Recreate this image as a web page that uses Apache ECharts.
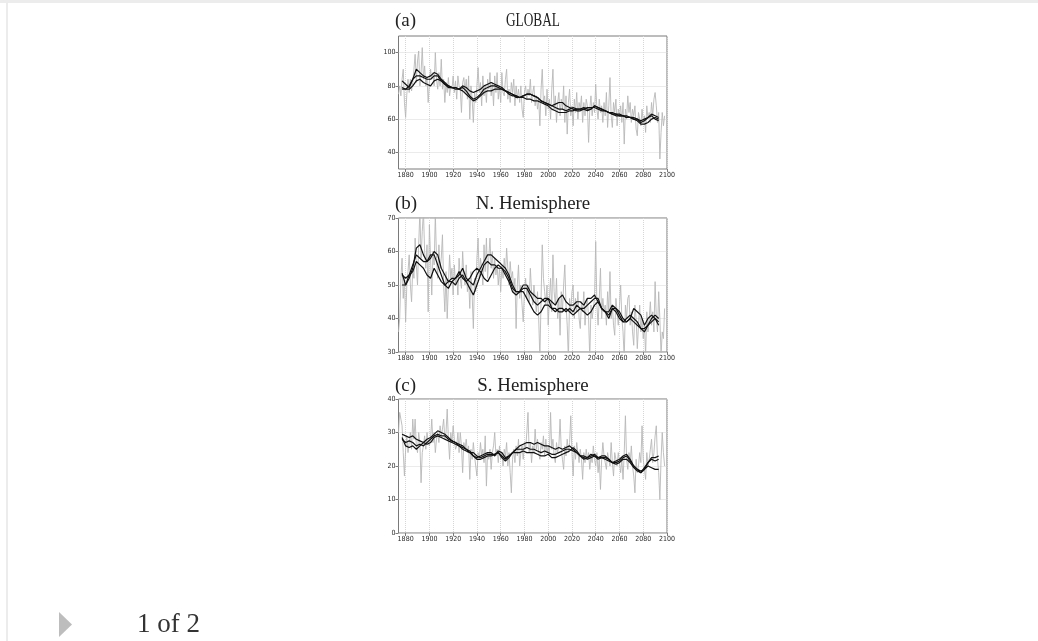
<!DOCTYPE html>
<html>
<head>
<meta charset="utf-8">
<title>Regional series, 1874-2098</title>
<script src="https://cdn.jsdelivr.net/npm/echarts@6/dist/echarts.min.js"></script>
<style>
  html, body { margin: 0; padding: 0; background: #ffffff; }
  #chart { width: 1038px; height: 641px; }
</style>
</head>
<body>
<div id="chart"></div>
<script>
// ---- axis ticks ----
const xTicks = [1880, 1900, 1920, 1940, 1960, 1980, 2000, 2020, 2040, 2060, 2080, 2100];
const yTicksGlobal = [40, 60, 80, 100];
const yTicksNorth = [30, 40, 50, 60, 70];
const yTicksSouth = [0, 10, 20, 30, 40];

// ---- annual values, one per year starting in annualStart ----
const annualStart = 1874;
const annualGlobal = [
  75, 80, 74, 84, 90, 70,
  61, 75, 84, 76, 84, 77, 82, 90, 99, 82,
  95, 101, 80, 88, 103, 84, 92, 80, 85, 70,
  82, 90, 84, 88, 80, 100, 84, 78, 88, 80,
  96, 78, 84, 70, 82, 76, 85, 74, 80, 78,
  86, 76, 83, 72, 86, 80, 78, 64, 82, 85,
  76, 84, 72, 86, 60, 80, 72, 58, 76, 70,
  80, 91, 76, 82, 68, 86, 74, 80, 70, 84,
  78, 88, 74, 82, 68, 86, 76, 88, 72, 80,
  70, 88, 76, 74, 84, 90, 72, 78, 70, 82,
  76, 84, 68, 80, 72, 78, 70, 80, 66, 61,
  76, 80, 72, 78, 74, 84, 70, 76, 80, 68,
  74, 66, 72, 56, 78, 90, 70, 74, 62, 78,
  66, 72, 60, 78, 90, 66, 74, 58, 70, 76,
  62, 72, 66, 80, 58, 74, 51, 70, 78, 62,
  68, 56, 72, 64, 76, 60, 70, 66, 74, 58,
  70, 62, 72, 68, 46, 66, 74, 62, 70, 64,
  81, 66, 60, 72, 64, 68, 58, 70, 62, 76,
  55, 68, 85, 62, 55, 70, 64, 72, 56, 66,
  62, 68, 58, 70, 45, 66, 60, 74, 64, 70,
  58, 66, 62, 68, 54, 50, 64, 60, 56, 66,
  58, 62, 52, 68, 60, 64, 58, 70, 62, 72,
  76, 68, 58, 64, 36, 52, 64, 56, 62
];
const annualNorth = [
  36, 40, 52, 58, 46, 52,
  39, 50, 54, 59, 50, 45, 55, 52, 64, 56,
  50, 62, 72, 58, 66, 72, 60, 55, 62, 42,
  68, 58, 47, 60, 56, 71, 58, 52, 62, 55,
  58, 65, 50, 42, 54, 40, 50, 59, 52, 55,
  47, 56, 50, 53, 47, 58, 52, 49, 60, 53,
  50, 56, 48, 52, 43, 54, 47, 37, 52, 48,
  58, 64, 52, 58, 55, 50, 62, 54, 64, 52,
  58, 64, 55, 60, 52, 58, 53, 56, 50, 55,
  48, 56, 52, 58, 53, 61, 55, 50, 57, 52,
  54, 48, 52, 37, 50, 56, 46, 50, 44, 39,
  48, 52, 46, 50, 45, 55, 48, 44, 50, 50,
  42, 48, 40, 28, 46, 62, 52, 48, 44, 50,
  38, 46, 52, 42, 59, 48, 44, 52, 40, 46,
  35, 48, 42, 50, 56, 44, 38, 28, 46, 42,
  48, 50, 40, 46, 42, 48, 40, 37, 45, 42,
  48, 38, 44, 46, 40, 28, 44, 40, 40, 46,
  63, 44, 38, 46, 55, 40, 46, 42, 44, 38,
  48, 42, 54, 40, 44, 38, 35, 46, 42, 38,
  44, 50, 40, 36, 28, 44, 40, 46, 47, 38,
  42, 36, 32, 44, 40, 31, 38, 44, 36, 40,
  34, 38, 29, 42, 36, 40, 45, 38, 42, 36,
  51, 40, 36, 48, 40, 29, 36, 34, 43
];
const annualSouth = [
  30, 36, 34, 32, 24, 17,
  25, 29, 24, 27, 30, 25, 34, 28, 34, 26,
  24, 30, 27, 15, 24, 26, 29, 25, 30, 27,
  26, 28, 34, 27, 30, 24, 28, 30, 27, 32,
  29, 31, 34, 28, 30, 37, 28, 22, 30, 27,
  32, 28, 25, 26, 30, 24, 30, 26, 18, 27,
  25, 28, 24, 26, 16, 25, 22, 27, 23, 20,
  17, 24, 22, 27, 23, 25, 21, 29, 14, 24,
  22, 25, 19, 24, 26, 30, 23, 25, 21, 26,
  22, 24, 20, 25, 23, 27, 20, 24, 18, 12,
  22, 25, 21, 26, 23, 28, 20, 24, 26, 22,
  27, 25, 30, 36, 24, 27, 21, 26, 24, 31,
  25, 28, 24, 22, 27, 25, 29, 23, 28, 24,
  26, 23, 36, 25, 28, 23, 21, 27, 24, 26,
  34, 25, 22, 19, 26, 23, 28, 24, 27, 35,
  24, 17, 26, 22, 27, 24, 21, 25, 22, 16,
  24, 21, 25, 22, 24, 19, 23, 21, 26, 22,
  20, 24, 18, 22, 13, 22, 27, 23, 21, 19,
  24, 22, 20, 27, 21, 17, 24, 22, 20, 24,
  21, 18, 22, 16, 24, 35, 22, 19, 24, 21,
  26, 20, 17, 12, 22, 18, 20, 24, 21, 32,
  22, 19, 16, 24, 20, 22, 25, 28, 21, 24,
  29, 32, 22, 18, 10, 22, 30, 24, 20
];

// ---- running means, one value every smoothStep years from smoothStart ----
const smoothStart = 1877;
const smoothStep = 3;
const globalRunA = [83,81,79,84,90,88,86,85,86,88, 87,84,82,80,79,79,78,80,79,77, 76,77,78,80,81,82,81,80,79,77, 76,75,74,73,74,75,75,74,73,71, 70,69,68,67,66,66,65,66,67,66, 66,67,66,66,68,67,66,65,64,64, 63,63,62,62,61,61,60,59,60,61, 63,62,61];
const globalRunB = [78,78,80,84,86,86,85,84,84,86, 86,83,81,79,79,78,78,79,77,74, 72,73,75,78,79,80,80,79,78,77, 75,74,74,73,74,75,75,74,73,71, 70,69,68,69,70,70,68,67,66,65, 65,66,67,67,67,66,65,65,64,63, 63,62,62,61,61,60,59,57,57,58, 60,61,60];
const globalRunC = [79,78,78,80,83,84,82,81,80,83, 84,83,81,80,79,79,78,77,75,73, 71,72,74,76,77,77,78,78,78,77, 76,75,73,73,73,72,72,71,71,70, 69,68,66,65,64,64,64,65,65,66, 66,66,65,66,68,67,66,65,64,63, 62,62,62,61,61,60,60,58,59,61, 62,60,59];

const northRunA = [53.5,50,52,55,61,62,59,57,58,60, 59,55,53,51,52,52,53,55,52,51, 50,53,55,57,59,59,58,57,56,55, 53,50,48,48,49,49,47,45,44,45, 46,46,45,44,46,47,45,44,44,45, 45,44,46,46,47,45,43,42,41,43, 43,42,40,39,40,43,42,41,38,40, 41,40,38];
const northRunB = [50,50,53,56,59,58,57,57,59,59, 56,53,50,49,51,52,54,52,51,49, 47,50,53,56,57,56,56,55,55,54, 52,49,48,48,50,50,48,47,46,46, 45,46,43,42,43,43,42,43,42,44, 43,43,44,45,46,46,43,42,42,44, 43,41,39,39,40,39,38,37,37,38, 40,41,40];
const northRunC = [53,52,53,54,57,56,55,53,52,55, 53,51,50,51,51,50,52,53,51,52, 54,55,54,52,51,53,55,56,55,53, 51,48,47,48,48,46,44,42,41,42, 44,44,43,43,42,42,43,42,41,42, 43,42,41,42,44,45,43,42,40,43, 42,40,39,40,41,40,39,37,36,38, 39,40,39];

const southRunA = [29.5,29,28.5,29,28,27.5,27,28,28.5,29.5, 30.5,30,29.5,28.5,27.5,27,26.5,26,25,24, 24,23,22.5,23,23.5,23.5,23.5,24,23,22, 23,24,25,26,26.5,27,27,26.5,27,26.5, 26,26,25.5,25,25.5,25,25.5,26,25,24, 23,23,22.5,23,23.5,22.5,23,23,22,21, 21.5,22,23,23.5,22,20,19,18.5,19,21, 22.5,22.5,23];
const southRunB = [28,27,27.5,27,26,26.5,26,27,28,29, 29.5,29,29,28,27.5,27,26,25,24.5,24, 23,22,22,22.5,23,23,23.5,24,22.5,21.5, 22.5,24,25,25,25,25.5,25,25,24.5,24, 24.5,24,23.5,23.5,24,24.5,25,25,24.5,24, 23,22.5,22,22.5,23,22.5,22.5,22.5,22,21, 20.5,21,22,22,21,19.5,18.5,18,19,20, 19.5,19,19];
const southRunC = [28.5,26,25.5,26,25,26,27,26.5,27,28.5, 29,28.5,28,27.5,27,26.5,26,25.5,25,24.5, 23,22.5,23,23.5,24,24,23,24.5,24,22.5, 23,24,24,24,24.5,24,24,24,23.5,23, 23,23.5,22.5,22.5,23,23.5,24,24.5,25.5,24.5, 23,22,22.5,23.5,23,22,22.5,22,21.5,21, 21,21.5,22.5,23,21.5,20,19,18,19.5,21, 22,21.5,22];

// ---- panels ----
const panels = [
  { tag: '(a)', name: 'GLOBAL', nameScale: 0.74, yMin: 30, yMax: 110, yTicks: yTicksGlobal,
    annual: annualGlobal, runs: [globalRunA, globalRunB, globalRunC],
    top: 36, height: 133, titleY: 21 },
  { tag: '(b)', name: 'N. Hemisphere', nameScale: 1.05, yMin: 30, yMax: 70, yTicks: yTicksNorth,
    annual: annualNorth, runs: [northRunA, northRunB, northRunC],
    top: 218, height: 134, titleY: 204 },
  { tag: '(c)', name: 'S. Hemisphere', nameScale: 1.05, yMin: 0, yMax: 40, yTicks: yTicksSouth,
    annual: annualSouth, runs: [southRunA, southRunB, southRunC],
    top: 399, height: 134, titleY: 386 }
];

const gridLeft = 398.5;
const gridWidth = 268.5;
const labelFont = '"Liberation Sans Narrow", "DejaVu Sans Condensed", "Liberation Sans", sans-serif';
const titleFont = '"Liberation Serif", "DejaVu Serif", serif';
const plain = (v) => String(v);

function toPairs(start, step, values) {
  return values.map((v, i) => [start + i * step, v]);
}

const grids = [], xAxes = [], yAxes = [], series = [], graphics = [];

panels.forEach((p, i) => {
  grids.push({
    left: gridLeft, top: p.top, width: gridWidth, height: p.height,
    show: true, borderColor: '#7a7a7a', borderWidth: 1, backgroundColor: 'transparent',
    containLabel: false
  });
  xAxes.push({
    type: 'value', gridIndex: i, min: 1874, max: 2100,
    axisLine: { show: false },
    axisTick: { show: true, length: 3, customValues: xTicks, lineStyle: { color: '#7a7a7a' } },
    axisLabel: { customValues: xTicks, formatter: plain, fontSize: 7, color: '#2a2a2a', margin: 3, fontFamily: labelFont },
    splitLine: { show: true, lineStyle: { color: '#d6d6d6', type: 'dotted', width: 1 } }
  });
  yAxes.push({
    type: 'value', gridIndex: i, min: p.yMin, max: p.yMax,
    axisLine: { show: false },
    axisTick: { show: true, length: 3, customValues: p.yTicks, lineStyle: { color: '#7a7a7a' } },
    axisLabel: { customValues: p.yTicks, formatter: plain, fontSize: 7, color: '#2a2a2a', margin: 3, fontFamily: labelFont },
    splitLine: { show: true, lineStyle: { color: '#d6d6d6', type: 'dotted', width: 1 } }
  });
  series.push({
    type: 'line', xAxisIndex: i, yAxisIndex: i, symbol: 'none', clip: true,
    data: toPairs(annualStart, 1, p.annual),
    lineStyle: { color: '#b8b8b8', width: 0.9 }, z: 2
  });
  p.runs.forEach((run) => {
    series.push({
      type: 'line', xAxisIndex: i, yAxisIndex: i, symbol: 'none', clip: true,
      data: toPairs(smoothStart, smoothStep, run),
      lineStyle: { color: '#111111', width: 1.2 }, z: 3
    });
  });
  graphics.push({
    type: 'text', x: 395, y: p.titleY,
    style: { text: p.tag, font: '19px ' + titleFont, fill: '#222', textAlign: 'left', textVerticalAlign: 'middle' }
  });
  graphics.push({
    type: 'text', x: 533, y: p.titleY, scaleX: p.nameScale,
    style: { text: p.name, font: '18px ' + titleFont, fill: '#222', textAlign: 'center', textVerticalAlign: 'middle' }
  });
});

// page frame and pager
graphics.push({ type: 'rect', shape: { x: 0, y: 0, width: 1038, height: 3 }, style: { fill: '#ececec' } });
graphics.push({ type: 'rect', shape: { x: 6, y: 0, width: 2, height: 641 }, style: { fill: '#ececec' } });
graphics.push({ type: 'polygon', shape: { points: [[59, 612], [72, 624.5], [59, 637]] }, style: { fill: '#bdbdbd' } });
graphics.push({
  type: 'text', x: 137, y: 625,
  style: { text: '1 of 2', font: '27px ' + titleFont, fill: '#333', textAlign: 'left', textVerticalAlign: 'middle' }
});

const chart = echarts.init(document.getElementById('chart'), null, { renderer: 'canvas' });
chart.setOption({
  animation: false,
  backgroundColor: '#ffffff',
  grid: grids,
  xAxis: xAxes,
  yAxis: yAxes,
  series: series,
  graphic: graphics
});
</script>
</body>
</html>
